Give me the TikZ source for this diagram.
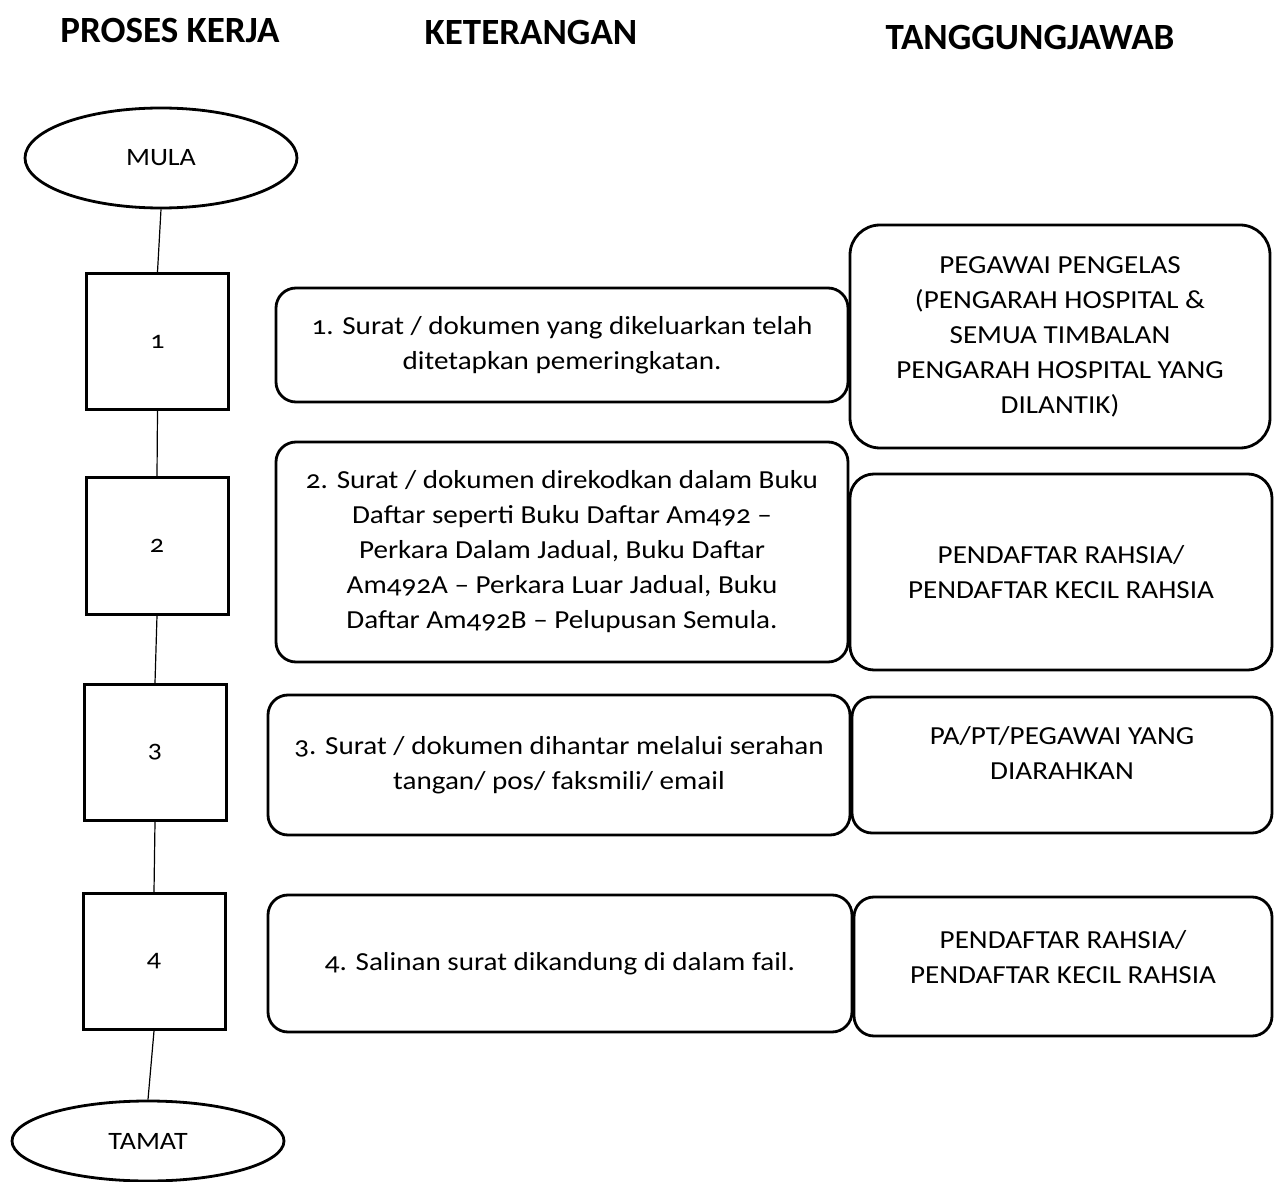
\documentclass[tikz,border=0pt]{standalone}
\usepackage{fontspec}
\setmainfont{Carlito}[Numbers=OldStyle,FakeStretch=1.12]
\newfontfamily\hdrfont{Carlito}[Numbers=OldStyle]
\usetikzlibrary{shapes.geometric}
\begin{document}
\begin{tikzpicture}[x=0.5pt,y=-0.5pt,
  hdr/.style={font=\hdrfont\bfseries\fontsize{18.5}{22}\selectfont},
  oval/.style={draw,ellipse,line width=1.4pt,minimum width=136pt,inner sep=0pt,font=\fontsize{12.5}{16}\selectfont},
  pbox/.style={draw,rectangle,line width=1.5pt,minimum width=71pt,minimum height=68pt,inner sep=0pt,font=\fontsize{12.5}{16}\selectfont},
  kbox/.style={draw,rectangle,rounded corners=10pt,line width=1.4pt,inner sep=0pt,align=center,font=\fontsize{13}{17.5}\selectfont},
  link/.style={line width=0.6pt}]
\useasboundingbox (0,0) rectangle (1276,1182);
% headers
\node[hdr] (h1) at (170,30) {PROSES KERJA};
\node[hdr] (h2) at (531,32) {KETERANGAN};
\node[hdr] (h3) at (1030,38) {TANGGUNGJAWAB};
% process column
\node[oval,minimum height=50pt] (mula) at (161,158) {MULA};
\node[pbox] (p1) at (157.5,341.5) {1};
\node[pbox] (p2) at (157,546) {2};
\node[pbox] (p3) at (155,752.5) {3};
\node[pbox] (p4) at (154,961.5) {4};
\node[oval,minimum height=40pt] (tamat) at (148,1141) {TAMAT};
\draw[link] (mula.south) -- (p1.north);
\draw[link] (p1.south) -- (p2.north);
\draw[link] (p2.south) -- (p3.north);
\draw[link] (p3.south) -- (p4.north);
\draw[link] (p4.south) -- (tamat.north);
% keterangan
\node[kbox,minimum width=286pt,minimum height=57pt] (k1) at (562,345)
  {1. Surat / dokumen yang dikeluarkan telah\\ditetapkan pemeringkatan.};
\node[kbox,minimum width=286pt,minimum height=110pt] (k2) at (562,552)
  {2. Surat / dokumen direkodkan dalam Buku\\Daftar seperti Buku Daftar Am492 –\\Perkara Dalam Jadual, Buku Daftar\\Am492A – Perkara Luar Jadual, Buku\\Daftar Am492B – Pelupusan Semula.};
\node[kbox,minimum width=291pt,minimum height=70pt] (k3) at (559,765)
  {3. Surat / dokumen dihantar melalui serahan\\tangan/ pos/ faksmili/ email};
\node[kbox,minimum width=292pt,minimum height=68.5pt] (k4) at (560,963.5)
  {4. Salinan surat dikandung di dalam fail.};
% tanggungjawab
\node[kbox,rounded corners=15pt,minimum width=210pt,minimum height=111.5pt] (t1) at (1060,336.5)
  {PEGAWAI PENGELAS\\(PENGARAH HOSPITAL \&\\SEMUA TIMBALAN\\PENGARAH HOSPITAL YANG\\DILANTIK)};
\node[kbox,rounded corners=12pt,minimum width=211pt,minimum height=98pt] (t2) at (1061,572)
  {PENDAFTAR RAHSIA/\\PENDAFTAR KECIL RAHSIA};
\node[kbox,minimum width=210pt,minimum height=68pt,
  label={[align=center,font=\fontsize{13}{17.5}\selectfont,yshift=6pt]center:PA/PT/PEGAWAI YANG\\DIARAHKAN}] (t3) at (1062,765) {};
\node[kbox,minimum width=209pt,minimum height=69.5pt,
  label={[align=center,font=\fontsize{13}{17.5}\selectfont,yshift=4.5pt]center:PENDAFTAR RAHSIA/\\PENDAFTAR KECIL RAHSIA}] (t4) at (1063,966.5) {};
\end{tikzpicture}
\end{document}
